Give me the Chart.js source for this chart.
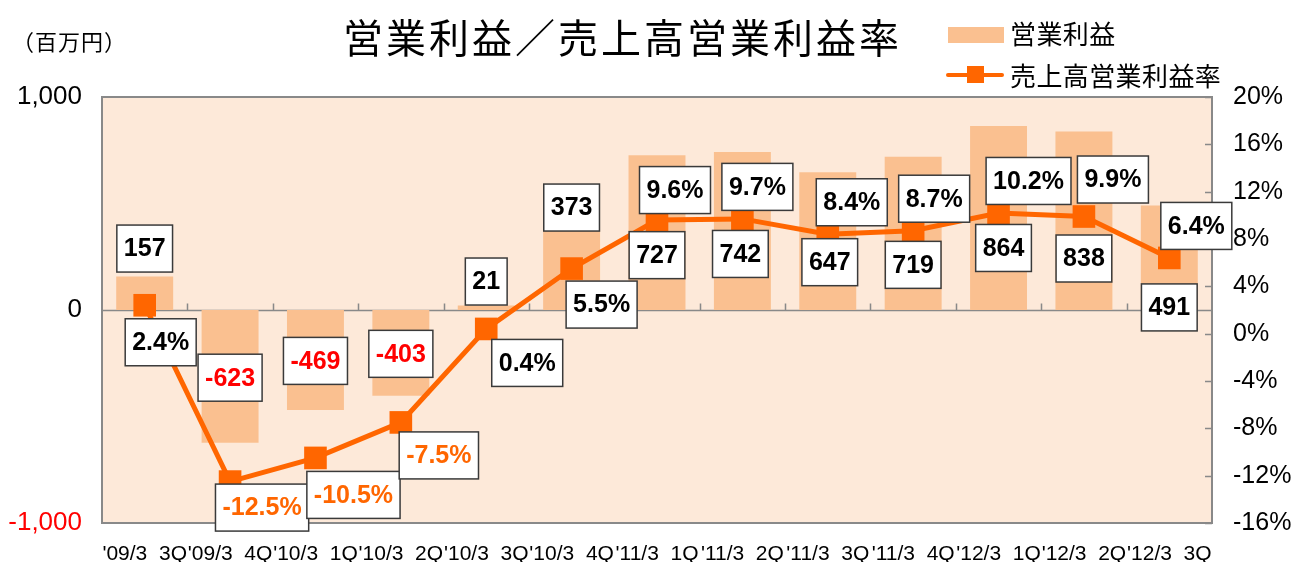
<!DOCTYPE html>
<html lang="ja">
<head>
<meta charset="utf-8">
<script src="https://cdn.jsdelivr.net/npm/chart.js@4.4.1/dist/chart.umd.min.js"></script>
<style>
  html, body { margin: 0; padding: 0; background: #fff; }
  #wrap { position: relative; width: 1296px; height: 562px; overflow: hidden; }
  #chart { position: absolute; left: 0; top: 0; }
  .txt { position: absolute; font-family: "Noto Sans CJK JP", sans-serif; color: #000; white-space: nowrap; }
  #unit { left: 12px; top: 27px; font-size: 22px; line-height: 26px; letter-spacing: 1px; }
  #title { left: 343px; top: 14px; font-size: 40px; line-height: 44px; letter-spacing: 3px; }
  .legend-text { left: 1010px; font-size: 26px; line-height: 30px; letter-spacing: 0.4px; }
  #swatch-bar { position: absolute; left: 948px; top: 27px; width: 56px; height: 16px; background: #FAC090; }
  #swatch-line { position: absolute; left: 946px; top: 73px; width: 58px; height: 4px; background: #FF6600; border-radius: 2px; }
  #swatch-mark { position: absolute; left: 967px; top: 66px; width: 17px; height: 17px; background: #FF6600; }
</style>
</head>
<body>
<div id="wrap">
  <canvas id="chart" width="1296" height="562"></canvas>
  <div class="txt" id="unit">（百万円）</div>
  <div class="txt" id="title">営業利益／売上高営業利益率</div>
  <div id="swatch-bar"></div>
  <div class="txt legend-text" style="top:18px">営業利益</div>
  <div id="swatch-line"></div>
  <div id="swatch-mark"></div>
  <div class="txt legend-text" style="top:60px">売上高営業利益率</div>
</div>
<script>
const quarters = ["'09/3  3Q", "'09/3  4Q", "'10/3  1Q", "'10/3  2Q", "'10/3  3Q", "'10/3  4Q", "'11/3  1Q",
  "'11/3  2Q", "'11/3  3Q", "'11/3  4Q", "'12/3  1Q", "'12/3  2Q", "'12/3  3Q"];
const operatingProfit = [157, -623, -469, -403, 21, 373, 727, 742, 647, 719, 864, 838, 491];
const operatingMargin = [2.4, -12.5, -10.5, -7.5, 0.4, 5.5, 9.6, 9.7, 8.4, 8.7, 10.2, 9.9, 6.4];

// label box offsets (px) from the point they describe, as placed in the original
const profitLabelShift = [[0, -28], [0, -65], [0, -49], [0, -42], [0, -24], [0, -23], [0, 100],
  [-2, 102], [2, 90], [0, 108], [5, 122], [0, 127], [0, 102]];
const marginLabelShift = [[16, 37], [32, 26], [38, 37], [38, 33], [41, 34], [30, 36], [18, -30],
  [15, -32], [24, -32], [21, -32], [30, -32], [29, -37], [27, -32]];

const FONT = '"Liberation Sans", Arial, sans-serif';
const BORDER = '#898989';

function drawBox(ctx, text, x, y, color) {
  const w = ctx.measureText(text).width + 14;
  const h = 47;
  ctx.fillStyle = '#ffffff';
  ctx.fillRect(x - w / 2, y - h / 2, w, h);
  ctx.strokeStyle = '#3a3a3a';
  ctx.lineWidth = 1.5;
  ctx.strokeRect(x - w / 2, y - h / 2, w, h);
  ctx.fillStyle = color;
  ctx.fillText(text, x, y + 1);
}

const plotFrame = {
  id: 'plotFrame',
  beforeDatasetsDraw(chart) {
    const { ctx, chartArea: a, scales } = chart;
    ctx.save();
    ctx.fillStyle = '#FDE9D9';
    ctx.fillRect(a.left, a.top, a.width, a.height);
    ctx.strokeStyle = BORDER;
    ctx.lineWidth = 2;
    ctx.strokeRect(a.left, a.top, a.width, a.height);
    // zero line with category ticks
    const y0 = Math.round(scales.y.getPixelForValue(0)) + 0.5;
    ctx.lineWidth = 1.5;
    ctx.beginPath();
    ctx.moveTo(a.left, y0);
    ctx.lineTo(a.right, y0);
    const step = a.width / quarters.length;
    for (let i = 1; i < quarters.length; i++) {
      const x = Math.round(a.left + step * i) + 0.5;
      ctx.moveTo(x, y0);
      ctx.lineTo(x, y0 - 7);
    }
    // inner ticks of the right axis
    scales.y1.ticks.forEach((t) => {
      const y = Math.round(scales.y1.getPixelForValue(t.value)) + 0.5;
      ctx.moveTo(a.right - 7, y);
      ctx.lineTo(a.right, y);
    });
    ctx.stroke();
    ctx.restore();
  },
  afterDatasetsDraw(chart) {
    const { ctx, scales } = chart;
    ctx.save();
    ctx.font = `bold 25px ${FONT}`;
    ctx.textAlign = 'center';
    ctx.textBaseline = 'middle';
    operatingProfit.forEach((v, i) => {
      const x = scales.x.getPixelForValue(i) + profitLabelShift[i][0];
      const y = scales.y.getPixelForValue(v) + profitLabelShift[i][1];
      drawBox(ctx, String(v), x, y, v < 0 ? '#FF0000' : '#000000');
    });
    operatingMargin.forEach((v, i) => {
      const x = scales.x.getPixelForValue(i) + marginLabelShift[i][0];
      const y = scales.y1.getPixelForValue(v) + marginLabelShift[i][1];
      drawBox(ctx, `${v.toFixed(1)}%`, x, y, v < 0 ? '#FF6600' : '#000000');
    });
    ctx.restore();
  },
};

new Chart(document.getElementById('chart').getContext('2d'), {
  type: 'bar',
  data: {
    labels: quarters,
    datasets: [
      {
        type: 'line',
        label: '売上高営業利益率',
        data: operatingMargin,
        yAxisID: 'y1',
        borderColor: '#FF6600',
        backgroundColor: '#FF6600',
        borderWidth: 5,
        pointStyle: 'rect',
        pointRadius: 16,
        pointBorderWidth: 0,
        tension: 0,
        order: 0,
      },
      {
        label: '営業利益',
        data: operatingProfit,
        yAxisID: 'y',
        backgroundColor: '#FAC090',
        categoryPercentage: 1,
        barPercentage: 0.667,
        order: 1,
      },
    ],
  },
  options: {
    responsive: false,
    animation: false,
    devicePixelRatio: 1,
    layout: { padding: { top: 97, left: 0, right: 0, bottom: 0 } },
    plugins: {
      legend: { display: false },
      title: { display: false },
      tooltip: { enabled: false },
    },
    scales: {
      x: {
        offset: true,
        grid: { display: false, drawTicks: false },
        border: { display: false },
        ticks: {
          autoSkip: false,
          maxRotation: 0,
          minRotation: 0,
          padding: 19,
          color: '#000',
          font: { family: FONT, size: 21 },
        },
        afterFit(scale) { scale.height = 39; },
      },
      y: {
        position: 'left',
        min: -1000,
        max: 1000,
        grid: { display: false, drawTicks: false },
        border: { display: false },
        ticks: {
          stepSize: 1000,
          padding: 20,
          color: (ctx) => (ctx.tick.value < 0 ? '#FF0000' : '#000000'),
          font: { family: FONT, size: 26 },
        },
        afterFit(scale) { scale.width = 102; },
      },
      y1: {
        position: 'right',
        min: -16,
        max: 20,
        grid: { display: false, drawTicks: false },
        border: { display: false },
        ticks: {
          stepSize: 4,
          padding: 21,
          color: '#000',
          font: { family: FONT, size: 25 },
          callback: (v) => `${v}%`,
        },
        afterFit(scale) { scale.width = 84; },
      },
    },
  },
  plugins: [plotFrame],
});
</script>
</body>
</html>
